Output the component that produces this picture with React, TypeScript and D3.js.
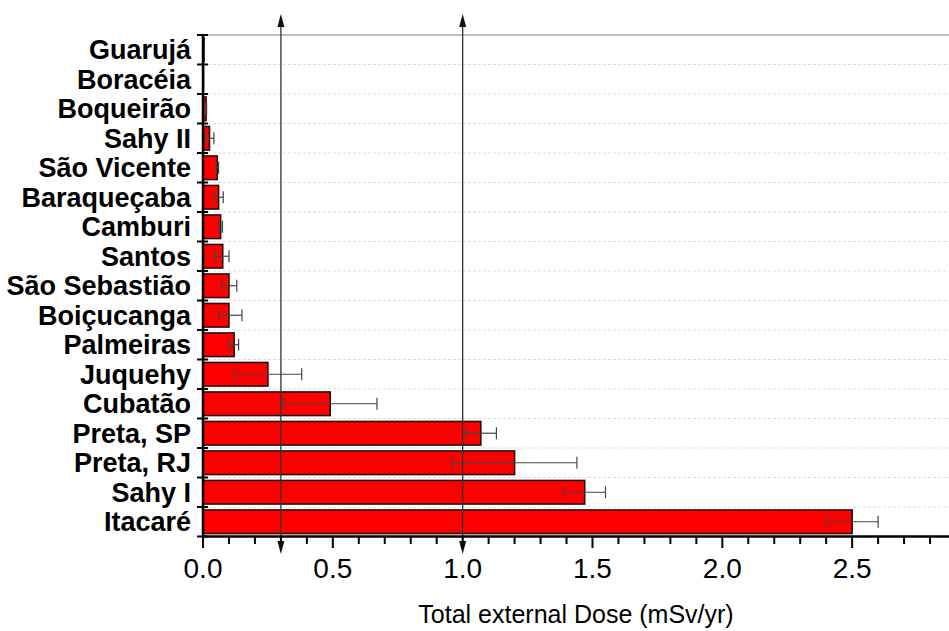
import React from "react";
import * as d3 from "d3";

const categories = [
  "Guarujá", "Boracéia", "Boqueirão", "Sahy II", "São Vicente", "Baraqueçaba",
  "Camburi", "Santos", "São Sebastião", "Boiçucanga", "Palmeiras", "Juquehy",
  "Cubatão", "Preta, SP", "Preta, RJ", "Sahy I", "Itacaré",
];
const doseValues = [0.004, 0.001, 0.012, 0.025, 0.055, 0.06, 0.068, 0.076, 0.1, 0.1, 0.12, 0.25, 0.49, 1.07, 1.2, 1.47, 2.5];
const errLow = [0.003, 0.001, 0.01, 0.008, 0.05, 0.042, 0.06, 0.047, 0.07, 0.06, 0.1, 0.12, 0.31, 1.01, 0.96, 1.39, 2.4];
const errHigh = [0.005, 0.001, 0.014, 0.042, 0.06, 0.078, 0.075, 0.1, 0.13, 0.15, 0.137, 0.38, 0.67, 1.13, 1.44, 1.55, 2.6];
const xTickLabels = ["0.0", "0.5", "1.0", "1.5", "2.0", "2.5"];
const referenceLines = [0.3, 1.0];
const xTitle = "Total external Dose (mSv/yr)";

export default function App() {
  const W = 949, H = 631;
  const left = 203, right = 949, top = 35, bottom = 536.5;
  const x = d3.scaleLinear().domain([0, 2.873]).range([left, right]);
  const y = d3.scaleBand().domain(categories).range([top, bottom]).paddingInner(0.2).paddingOuter(0.1);
  const step = (bottom - top) / categories.length;
  const boundaries = d3.range(categories.length + 1).map((i) => top + i * step);
  const majors = xTickLabels.map((t) => +t);
  const minors = d3.range(0, 2.85, 0.1).map((v) => Math.round(v * 10) / 10).filter((v) => !majors.some((m) => Math.abs(m - v) < 1e-6));
  const font = "'Liberation Sans', Arial, sans-serif";
  return (
    <svg width={W} height={H} style={{ position: "absolute", left: 0, top: 0, background: "#fff" }}>
      <rect x={0} y={0} width={W} height={H} fill="#fff" />
      {/* grid */}
      {boundaries.slice(1, -1).map((b, i) => (
        <line key={"g" + i} x1={left} x2={right} y1={b} y2={b} stroke="#ddd" strokeWidth={1} strokeDasharray="3,2" />
      ))}
      <line x1={left} x2={right} y1={top} y2={top} stroke="#aaa" strokeWidth={1.5} />
      {/* bars */}
      {categories.map((c, i) => (
        <rect key={"b" + i} x={x(0)} y={y(c)!} width={Math.max(0.5, x(doseValues[i]) - x(0))} height={y.bandwidth()}
          fill="#ff0000" stroke="#2a1010" strokeWidth={1.6} />
      ))}
      {/* error bars */}
      {categories.map((c, i) => {
        const cy = y(c)! + y.bandwidth() / 2;
        if (errHigh[i] - errLow[i] < 0.001) return null;
        return (
          <g key={"e" + i} stroke="#444" strokeWidth={1.2}>
            <line x1={x(errLow[i])} x2={x(errHigh[i])} y1={cy} y2={cy} />
            <line x1={x(errLow[i])} x2={x(errLow[i])} y1={cy - 6} y2={cy + 6} />
            <line x1={x(errHigh[i])} x2={x(errHigh[i])} y1={cy - 6} y2={cy + 6} />
          </g>
        );
      })}
      {/* reference arrows */}
      {referenceLines.map((v, i) => (
        <g key={"r" + i}>
          <line x1={x(v)} x2={x(v)} y1={25} y2={542} stroke="#333" strokeWidth={1.3} />
          <path d={`M${x(v)},14 L${x(v) - 3.5},27 L${x(v) + 3.5},27 Z`} fill="#111" />
          <path d={`M${x(v)},554 L${x(v) - 3.5},541 L${x(v) + 3.5},541 Z`} fill="#111" />
        </g>
      ))}
      {/* y axis */}
      <line x1={left} x2={left} y1={top} y2={bottom} stroke="#000" strokeWidth={2.5} />
      {boundaries.map((b, i) => (
        <line key={"yt" + i} x1={197} x2={208} y1={b} y2={b} stroke="#000" strokeWidth={2} />
      ))}
      {categories.map((c, i) => (
        <text key={"yl" + i} x={191} y={y(c)! + y.bandwidth() / 2} dy="0.36em" textAnchor="end"
          fontFamily={font} fontWeight="bold" fontSize={27} fill="#000">{c}</text>
      ))}
      {/* x axis */}
      <line x1={left - 1} x2={right} y1={bottom} y2={bottom} stroke="#000" strokeWidth={2.5} />
      {majors.map((v, i) => (
        <line key={"xm" + i} x1={x(v)} x2={x(v)} y1={bottom} y2={548} stroke="#000" strokeWidth={2} />
      ))}
      {minors.map((v, i) => (
        <line key={"xn" + i} x1={x(v)} x2={x(v)} y1={bottom} y2={544} stroke="#000" strokeWidth={2} />
      ))}
      {xTickLabels.map((t, i) => (
        <text key={"xl" + i} x={x(+t)} y={578} textAnchor="middle" fontFamily={font} fontSize={28} fill="#000">{t}</text>
      ))}
      <text x={576} y={623} textAnchor="middle" fontFamily={font} fontSize={25} fill="#000">{xTitle}</text>
    </svg>
  );
}
